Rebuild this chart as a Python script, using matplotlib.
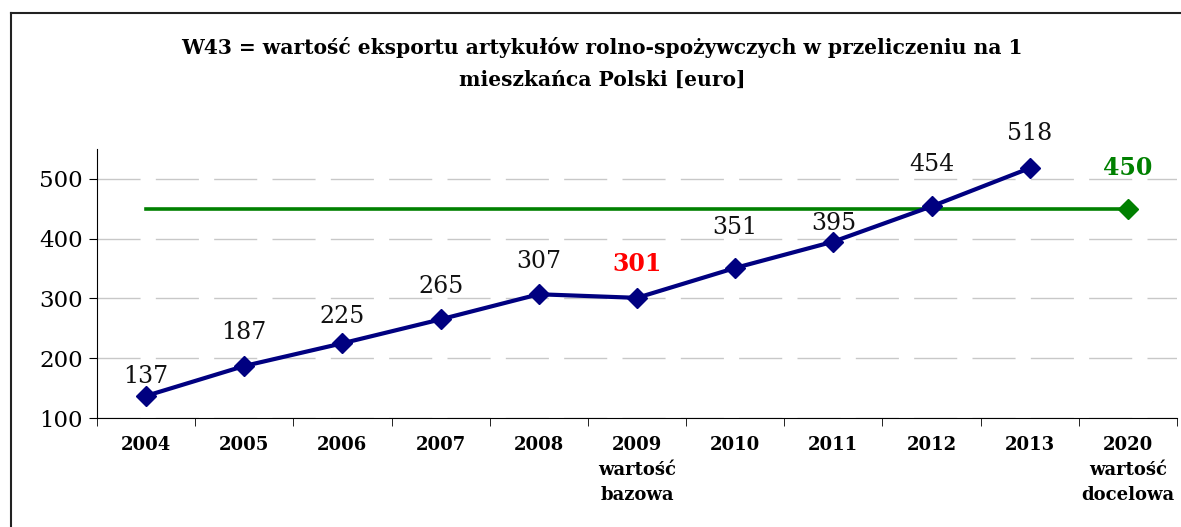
import matplotlib.pyplot as plt

years = ["2004", "2005", "2006", "2007", "2008", "2009", "2010", "2011", "2012", "2013", "2020"]
tick_labels = ["2004", "2005", "2006", "2007", "2008", "2009\nwartość\nbazowa", "2010",
               "2011", "2012", "2013", "2020\nwartość\ndocelowa"]
values = [137, 187, 225, 265, 307, 301, 351, 395, 454, 518]
target = 450

# label offsets above the points (pixels), as placed in the original
label_off = [19, 34, 27, 33, 33, 34, 40, 18, 42, 35]

plt.rcParams['font.family'] = ['DejaVu Serif']

fig = plt.figure(figsize=(11.81, 5.27), dpi=100)
ax = fig.add_axes([0.0821, 0.2068, 0.9145, 0.5105])

x = list(range(len(years)))
xs = x[:len(values)]

# target line across all years, marker only at 2020
ax.plot(x, [target] * len(x), color="#008000", lw=2.6, zorder=2)
ax.plot([x[-1]], [target], marker="D", ms=10, color="#008000", zorder=3)
ax.plot(xs, values, color="#000080", lw=3, marker="D", ms=10, zorder=4)

for xi, v, yr, off in zip(xs, values, years, label_off):
    col = "#ff0000" if yr == "2009" else "#111111"
    wt = "bold" if yr == "2009" else "normal"
    ax.annotate(str(v), (xi, v), xytext=(0, off * 0.72), textcoords="offset points",
                ha="center", va="center", fontsize=17, color=col, fontweight=wt)
ax.annotate(str(target), (x[-1], target), xytext=(0, 41 * 0.72), textcoords="offset points",
            ha="center", va="center", fontsize=17, color="#008000", fontweight="bold")

ax.set_xlim(-0.5, len(x) - 0.5)
ax.set_ylim(100, 550)
ax.set_yticks([100, 200, 300, 400, 500])
ax.tick_params(axis="y", labelsize=16.5, length=6, direction="out", pad=4)
ax.set_xticks(x)
ax.set_xticklabels(tick_labels, fontsize=13, fontweight="bold", linespacing=1.5)
ax.set_xticks([i - 0.5 for i in range(len(x) + 1)], minor=True)
ax.tick_params(axis="x", which="major", length=0, pad=13)
ax.tick_params(axis="x", which="minor", length=6, direction="out")

ax.grid(axis="y", color="#c8c8c8", lw=1, linestyle=(0, (31, 11)))
ax.set_axisbelow(True)
for s in ["top", "right"]:
    ax.spines[s].set_visible(False)

# outer frame of the chart area
fig.add_artist(plt.Line2D([11 / 1181, 11 / 1181], [0, 1 - 13 / 527], color="#222222",
                          lw=1.5, transform=fig.transFigure))
fig.add_artist(plt.Line2D([11 / 1181, 1], [1 - 13 / 527, 1 - 13 / 527], color="#222222",
                          lw=1.5, transform=fig.transFigure))

fig.text(0.51, 1 - 47 / 527, "W43 = wartość eksportu artykułów rolno-spożywczych w przeliczeniu na 1",
         ha="center", va="center", fontsize=14.6, fontweight="bold")
fig.text(0.51, 1 - 80 / 527, "mieszkańca Polski [euro]",
         ha="center", va="center", fontsize=14.6, fontweight="bold")

fig.savefig("out.png", dpi=100)
